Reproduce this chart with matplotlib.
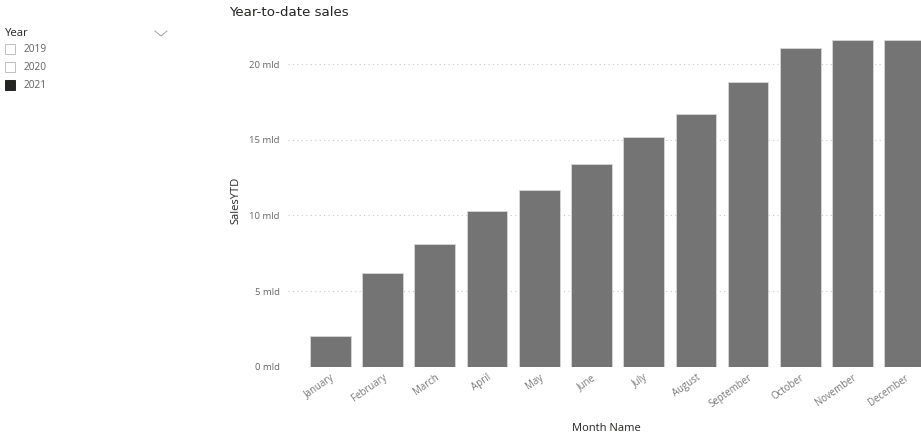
import matplotlib.pyplot as plt
from matplotlib.patches import Rectangle
from matplotlib.lines import Line2D

months = ["January", "February", "March", "April", "May", "June",
          "July", "August", "September", "October", "November", "December"]
sales_ytd = [2.04, 6.17, 8.10, 10.27, 11.70, 13.43,
             15.16, 16.70, 18.84, 21.06, 21.61, 21.61]  # mld
y_ticks = [0, 5, 10, 15, 20]
years = ["2019", "2020", "2021"]
selected = [False, False, True]

plt.rcParams['font.family'] = ['Open Sans', 'DejaVu Sans']

fig = plt.figure(figsize=(9.21, 4.36), dpi=100)
W, H = 921, 436

# main chart axes
ax = fig.add_axes([288 / W, 1 - 366.7 / H, (W - 288) / W, (366.7 - 34) / H])
x = range(len(months))
ax.bar(x, sales_ytd, width=0.78, color='#747474', edgecolor='#d8d8d8',
       linewidth=0.6, zorder=3)
ax.set_xlim(-0.81, 11.31)
ax.set_ylim(0, 22.0)

ax.set_yticks(y_ticks)
ax.set_yticklabels([f"{v} mld" for v in y_ticks], fontsize=6.8, color='#666666')
ax.set_xticks(list(x))
ax.set_xticklabels(months, fontsize=6.9, color='#777777', rotation=35,
                   ha='right', rotation_mode='anchor')
ax.tick_params(axis='both', length=0, pad=6)
ax.tick_params(axis='x', pad=4)
ax.grid(axis='y', color='#c8c8c8', linestyle=(0, (1, 3)), linewidth=0.8, zorder=0)
for s in ax.spines.values():
    s.set_visible(False)

fig.text(236 / W, 1 - 200 / H, "SalesYTD", rotation=90, ha='center', va='center',
         fontsize=8, color='#252423')
fig.text(606 / W, 1 - 428 / H, "Month Name", ha='center', va='center',
         fontsize=8, color='#252423')
fig.text(229 / W, 1 - 13 / H, "Year-to-date sales", ha='left', va='center',
         fontsize=9.6, color='#252423', family='DejaVu Sans')

# year slicer
fig.text(5 / W, 1 - 33 / H, "Year", ha='left', va='center', fontsize=8.2, color='#252423')
fig.lines.append(Line2D([155 / W, 161 / W, 167 / W],
                        [1 - 31 / H, 1 - 36 / H, 1 - 31 / H],
                        transform=fig.transFigure, color='#a0a0a0', linewidth=0.7))
for i, (yr, sel) in enumerate(zip(years, selected)):
    yc = 49 + i * 18
    box = Rectangle((5 / W, 1 - (yc + 5) / H), 10 / W, 10 / H,
                    transform=fig.transFigure,
                    facecolor='#252423' if sel else 'white',
                    edgecolor='#252423' if sel else '#c0c0c0', linewidth=0.7)
    fig.patches.append(box)
    fig.text(24 / W, 1 - yc / H, yr, ha='left', va='center', fontsize=7.3,
             color='#605e5c')

fig.savefig('out.png', dpi=100)
